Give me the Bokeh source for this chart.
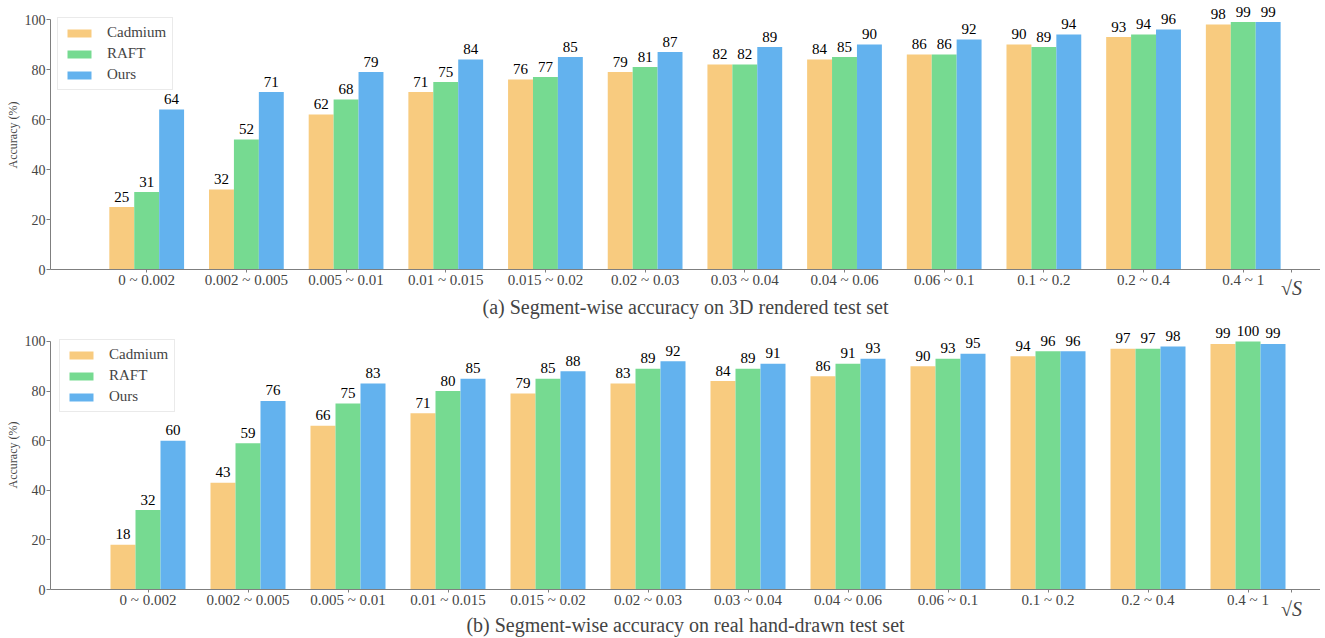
import numpy as np
from bokeh.plotting import figure
from bokeh.models import (ColumnDataSource, Range1d, FixedTicker, Legend, LegendItem,
                          LinearAxis)
from bokeh.layouts import column
from bokeh.transform import dodge
from bokeh.embed import file_html
from bokeh.resources import INLINE

categories = ["0 ~ 0.002", "0.002 ~ 0.005", "0.005 ~ 0.01", "0.01 ~ 0.015",
              "0.015 ~ 0.02", "0.02 ~ 0.03", "0.03 ~ 0.04", "0.04 ~ 0.06",
              "0.06 ~ 0.1", "0.1 ~ 0.2", "0.2 ~ 0.4", "0.4 ~ 1"]
series_names = ["Cadmium", "RAFT", "Ours"]

cadmium_a = [25, 32, 62, 71, 76, 79, 82, 84, 86, 90, 93, 98]
raft_a = [31, 52, 68, 75, 77, 81, 82, 85, 86, 89, 94, 99]
ours_a = [64, 71, 79, 84, 85, 87, 89, 90, 92, 94, 96, 99]

cadmium_b = [18, 43, 66, 71, 79, 83, 84, 86, 90, 94, 97, 99]
raft_b = [32, 59, 75, 80, 85, 89, 89, 91, 93, 96, 97, 100]
ours_b = [60, 76, 83, 85, 88, 92, 91, 93, 95, 96, 98, 99]

y_ticks = [0, 20, 40, 60, 80, 100]
colors = ["#F8CB7F", "#76DA91", "#63B2EE"]
FONT = "Liberation Serif"
AXIS_COLOR = "#7f7f7f"


def make_panel(series, caption, left_border, frame_w, frame_h, y100_px, group0_px,
               bottom_border, legend_xy, sqrt_px, sqrt_standoff, caption_standoff):
    idx = np.arange(len(categories))
    x_start = -group0_px / 100.0
    x_end = x_start + frame_w / 100.0
    px_per_unit = (frame_h - y100_px) / 100.0
    y_end = frame_h / px_per_unit
    p = figure(width=left_border + frame_w, height=frame_h + bottom_border,
               output_backend="svg", toolbar_location=None, x_axis_location=None,
               x_range=Range1d(x_start, x_end), y_range=Range1d(0, y_end),
               min_border_left=left_border, min_border_right=0,
               min_border_top=0, min_border_bottom=bottom_border)
    p.outline_line_color = None
    p.grid.visible = False

    items = []
    offsets = [-0.25, 0.0, 0.25]
    label_lift = 10.5 / px_per_unit
    for name, vals, col, off in zip(series_names, series, colors, offsets):
        src = ColumnDataSource(dict(x=idx, top=vals, lab=[str(v) for v in vals]))
        r = p.vbar(x=dodge("x", off, range=p.x_range), top="top", bottom=0, width=0.25,
                   source=src, fill_color=col, line_color=None)
        p.text(x=dodge("x", off, range=p.x_range), y=dodge("top", label_lift, range=p.y_range),
               text="lab", source=src,
               text_align="center", text_baseline="middle",
               text_font={"value": FONT}, text_font_size="15px", text_color="black")
        items.append(LegendItem(label=name, renderers=[r]))

    legend_h = 71
    legend = Legend(items=items, location=(legend_xy[0], frame_h - legend_xy[1] - legend_h),
                    padding=6, spacing=4, glyph_width=30, glyph_height=10, label_height=15,
                    label_standoff=13, label_text_font=FONT, label_text_font_size="15px",
                    border_line_color="#d5d5d5", border_line_width=1,
                    background_fill_alpha=1.0)
    p.add_layout(legend)

    # axis next to the frame: spine, small ticks, and the sqrt(S) marker
    sqrt_pos = x_start + sqrt_px / 100.0
    line_ticks = [int(i) for i in idx] + [sqrt_pos]
    overrides = {int(i): "" for i in idx}
    overrides[sqrt_pos] = "√S"
    xa_line = LinearAxis(ticker=FixedTicker(ticks=line_ticks),
                         major_label_overrides=overrides,
                         major_label_text_font=FONT, major_label_text_font_size="20px",
                         major_label_text_font_style="italic",
                         major_label_standoff=sqrt_standoff,
                         major_tick_out=3, major_tick_in=0, major_tick_line_color=AXIS_COLOR,
                         minor_tick_line_color=None, axis_line_color=AXIS_COLOR)
    p.add_layout(xa_line, "below")

    # category labels (pulled up under the spine) plus the caption
    xa_cat = LinearAxis(ticker=FixedTicker(ticks=[int(i) for i in idx]),
                        major_label_overrides={int(i): c for i, c in zip(idx, categories)},
                        major_label_text_font=FONT, major_label_text_font_size="15px",
                        major_label_standoff=-(3 + sqrt_standoff + 23),
                        major_tick_out=0, major_tick_in=0, major_tick_line_color=None,
                        minor_tick_line_color=None, axis_line_color=None,
                        axis_label=caption, axis_label_text_font=FONT,
                        axis_label_text_font_size="20px", axis_label_text_font_style="normal",
                        axis_label_standoff=caption_standoff)
    p.add_layout(xa_cat, "below")

    ya = p.yaxis[0]
    ya.ticker = FixedTicker(ticks=y_ticks)
    ya.bounds = (0, 100)
    ya.major_label_text_font = FONT
    ya.major_label_text_font_size = "14px"
    ya.major_label_standoff = 1
    ya.major_tick_out = 4
    ya.major_tick_in = 0
    ya.minor_tick_line_color = None
    ya.axis_line_color = AXIS_COLOR
    ya.major_tick_line_color = AXIS_COLOR
    ya.axis_label = "Accuracy (%)"
    ya.axis_label_text_font = FONT
    ya.axis_label_text_font_size = "12px"
    ya.axis_label_text_font_style = "normal"
    ya.axis_label_standoff = 2
    return p


p1 = make_panel([cadmium_a, raft_a, ours_a],
                "(a) Segment-wise accuracy on 3D rendered test set",
                left_border=46, frame_w=1274, frame_h=269, y100_px=19,
                group0_px=96.5, bottom_border=51, legend_xy=(7, 19),
                sqrt_px=1245, sqrt_standoff=4, caption_standoff=5)
p2 = make_panel([cadmium_b, raft_b, ours_b],
                "(b) Segment-wise accuracy on real hand-drawn test set",
                left_border=50, frame_w=1270, frame_h=270, y100_px=21,
                group0_px=97.5, bottom_border=48, legend_xy=(9, 22),
                sqrt_px=1241, sqrt_standoff=5, caption_standoff=3)

layout = column(p1, p2, spacing=0)
open("out.html", "w").write(file_html(layout, INLINE))
